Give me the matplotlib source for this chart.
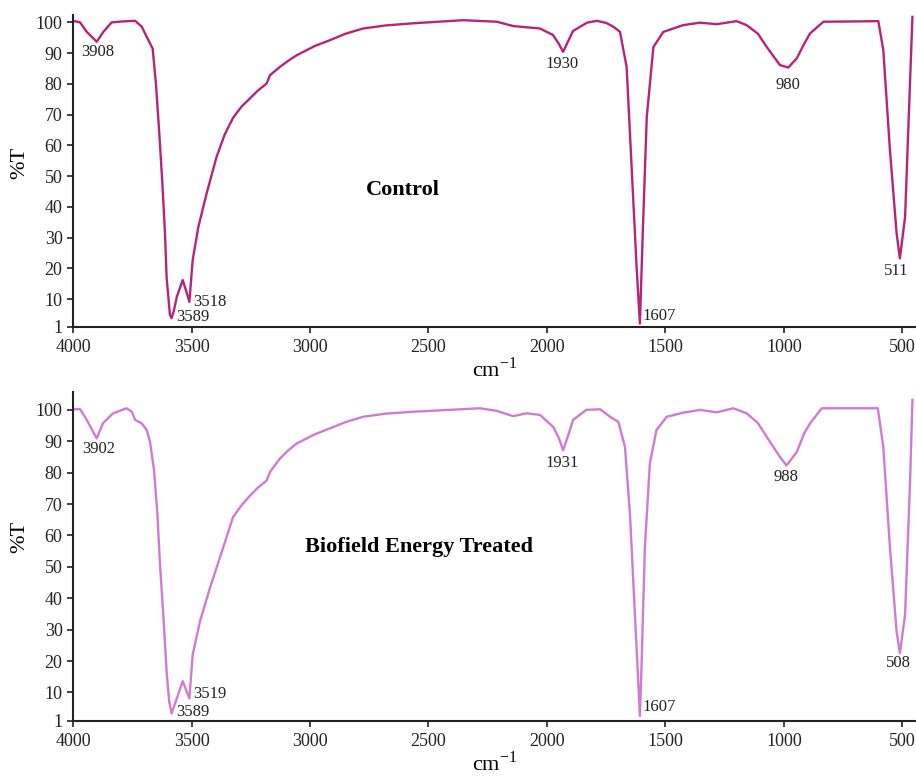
import matplotlib
matplotlib.use("Agg")
import matplotlib.pyplot as plt

plt.rcParams['font.family'] = ['Liberation Serif', 'DejaVu Serif']
plt.rcParams['mathtext.fontset'] = 'custom'
plt.rcParams['mathtext.rm'] = 'Liberation Serif'

# ---- Control spectrum (wavenumber, %T) ----
control_wn = [4000, 3970, 3942, 3900, 3872, 3837, 3790, 3738, 3710, 3689,
              3664, 3650, 3636, 3623, 3612, 3605, 3591, 3584, 3575, 3562,
              3537, 3520, 3509, 3495, 3471, 3436, 3394, 3360, 3325, 3290,
              3253, 3220, 3183, 3169, 3127, 3090, 3056, 2980, 2916, 2850,
              2776, 2680, 2565, 2354, 2211, 2143, 2030, 1975, 1950, 1932,
              1910, 1890, 1831, 1789, 1750, 1720, 1692, 1664, 1643, 1622,
              1608, 1596, 1579, 1551, 1509, 1425, 1354, 1284, 1200, 1158,
              1110, 1073, 1017, 982, 946, 915, 890, 834, 700, 602,
              581, 553, 525, 511, 489, 471, 458]
control_t = [100.5, 100.0, 96.9, 93.7, 96.9, 100.0, 100.3, 100.5, 98.6, 95.3,
             91.5, 80.0, 64.0, 47.7, 31.5, 17.0, 4.8, 3.8, 6.0, 10.7,
             16.2, 12.0, 9.1, 22.7, 33.5, 44.4, 56.3, 63.5, 68.9, 72.5,
             75.3, 77.8, 80.1, 82.8, 85.5, 87.6, 89.3, 92.3, 94.2, 96.3,
             98.0, 99.0, 99.7, 100.7, 100.2, 98.8, 98.0, 95.9, 93.0, 90.4,
             94.0, 97.2, 99.9, 100.5, 99.8, 98.6, 96.9, 85.5, 53.0, 20.5,
             2.0, 31.4, 69.3, 92.0, 96.9, 99.1, 99.9, 99.4, 100.4, 99.1,
             96.3, 92.0, 86.1, 85.3, 88.3, 93.0, 96.4, 100.2, 100.3, 100.4,
             91.0, 58.5, 31.5, 23.2, 36.8, 74.7, 101.8]

# ---- Biofield energy treated spectrum ----
treated_wn = [4000, 3970, 3942, 3900, 3874, 3831, 3774, 3752, 3738, 3710,
              3689, 3675, 3658, 3644, 3633, 3619, 3605, 3594, 3584, 3562,
              3537, 3520, 3509, 3495, 3464, 3422, 3366, 3325, 3290, 3253,
              3220, 3183, 3169, 3127, 3090, 3056, 2980, 2916, 2850, 2776,
              2680, 2565, 2283, 2213, 2143, 2087, 2030, 1974, 1950, 1932,
              1910, 1890, 1834, 1776, 1734, 1699, 1671, 1650, 1629, 1615,
              1608, 1601, 1587, 1566, 1538, 1495, 1425, 1354, 1284, 1214,
              1158, 1110, 1073, 1017, 989, 946, 915, 890, 841, 700,
              604, 581, 553, 525, 511, 489, 468, 458]
treated_t = [100.2, 100.2, 96.8, 90.9, 95.7, 98.9, 100.5, 99.4, 96.8, 95.7,
             93.6, 89.8, 80.7, 66.9, 50.8, 34.8, 16.6, 7.0, 3.3, 8.1,
             13.6, 10.2, 8.1, 22.0, 32.7, 43.3, 56.2, 65.8, 69.5, 72.7,
             75.2, 77.5, 80.2, 84.5, 87.2, 89.3, 92.2, 94.1, 96.1, 97.8,
             98.8, 99.4, 100.5, 99.7, 98.0, 98.9, 98.4, 94.6, 91.0, 87.1,
             92.0, 96.8, 100.0, 100.2, 97.8, 96.2, 88.2, 66.9, 34.8, 13.4,
             2.5, 18.8, 56.2, 82.9, 93.6, 97.8, 99.1, 100.0, 99.2, 100.5,
             98.9, 95.8, 91.4, 85.0, 82.3, 86.6, 92.5, 95.7, 100.5, 100.5,
             100.5, 88.2, 56.2, 29.5, 22.5, 34.8, 77.5, 103.2]

# peak labels: text, x, y, horizontal alignment
control_peaks = [('3908', 3895, 90.3, 'center'), ('3518', 3495, 9.1, 'left'),
                 ('3589', 3565, 4.2, 'left'), ('1930', 1938, 86.3, 'center'),
                 ('1607', 1596, 4.5, 'left'), ('980', 985, 79.6, 'center'),
                 ('511', 525, 19.0, 'center')]
treated_peaks = [('3902', 3890, 87.6, 'center'), ('3519', 3492, 9.4, 'left'),
                 ('3589', 3565, 3.8, 'left'), ('1931', 1938, 83.1, 'center'),
                 ('1607', 1596, 5.4, 'left'), ('988', 992, 78.6, 'center'),
                 ('508', 518, 19.3, 'center')]

x_ticks = [4000, 3500, 3000, 2500, 2000, 1500, 1000, 500]
y_ticks = [1, 10, 20, 30, 40, 50, 60, 70, 80, 90, 100]

fig = plt.figure(figsize=(9.16, 7.76), dpi=100)
ax_top = fig.add_axes([0.0797, 0.579, 0.9203, 0.4017])
ax_bot = fig.add_axes([0.0797, 0.0713, 0.9203, 0.4236])

panels = [
    (ax_top, control_wn, control_t, '#B8237A', control_peaks,
     'Control', 2609, 45.4, 102.4, 0.525),
    (ax_bot, treated_wn, treated_t, '#D07AD2', treated_peaks,
     'Biofield Energy Treated', 2539, 56.2, 105.7, 0.56),
]

for ax, wn, t, color, peaks, name, nx, ny, ytop, ly in panels:
    ax.plot(wn, t, color=color, linewidth=1.7)
    for txt, px, py, ha in peaks:
        ax.text(px, py, txt, ha=ha, va='center', fontsize=12, color='#222222')
    ax.text(nx, ny, name, ha='center', va='center',
            fontsize=16, fontweight='bold')
    ax.set_xlim(4000, 443)
    ax.set_ylim(1, ytop)
    ax.set_xticks(x_ticks)
    ax.set_yticks(y_ticks)
    ax.tick_params(labelsize=13, direction='out', length=4, width=1.2,
                   colors='#222222')
    ax.tick_params(axis='x', pad=5)
    for side in ['top', 'right']:
        ax.spines[side].set_visible(False)
    for side in ['left', 'bottom']:
        ax.spines[side].set_linewidth(1.5)
        ax.spines[side].set_color('#222222')
    ax.set_ylabel('%T', fontsize=16)
    ax.yaxis.set_label_coords(-0.052, ly)
    ax.set_xlabel(r'cm$^{\mathregular{-1}}$', fontsize=16, labelpad=1)

fig.savefig('out.png', dpi=100)
